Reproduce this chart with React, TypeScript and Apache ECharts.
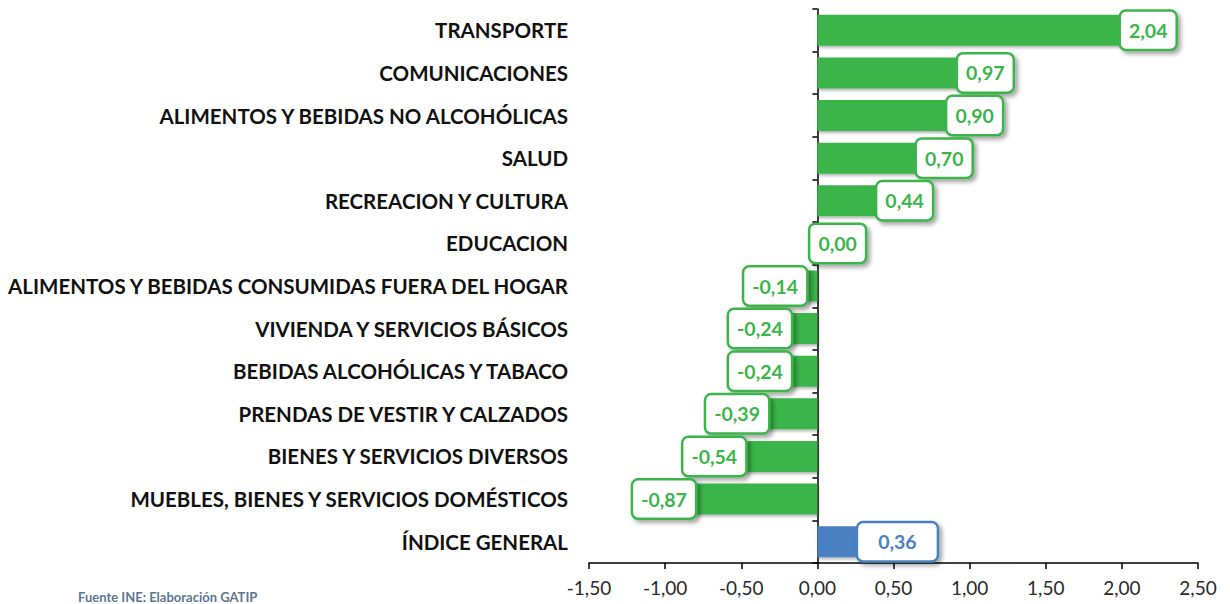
import { useEffect, useRef } from 'react';
import * as echarts from 'echarts';

const categories = [
  'TRANSPORTE',
  'COMUNICACIONES',
  'ALIMENTOS Y BEBIDAS NO ALCOHÓLICAS',
  'SALUD',
  'RECREACION Y CULTURA',
  'EDUCACION',
  'ALIMENTOS Y BEBIDAS CONSUMIDAS FUERA DEL HOGAR',
  'VIVIENDA Y SERVICIOS BÁSICOS',
  'BEBIDAS ALCOHÓLICAS Y TABACO',
  'PRENDAS DE VESTIR Y CALZADOS',
  'BIENES Y SERVICIOS DIVERSOS',
  'MUEBLES, BIENES Y SERVICIOS DOMÉSTICOS',
  'ÍNDICE GENERAL',
];
const values = [2.04, 0.97, 0.9, 0.7, 0.44, 0.0, -0.14, -0.24, -0.24, -0.39, -0.54, -0.87, 0.36];
const totalCategory = 'ÍNDICE GENERAL';
const sourceNote = 'Fuente INE: Elaboración GATIP';
const axisMin = -1.5;
const axisMax = 2.5;
const axisStep = 0.5;

const GREEN = '#3bb54a';
const BLUE = '#4a80c2';
const FONT = 'Lato';

const fmt = (v: number) => v.toFixed(2).replace('.', ',');

export default function App() {
  const ref = useRef<HTMLDivElement>(null);
  useEffect(() => {
    if (!ref.current) return;
    const chart = echarts.init(ref.current, undefined, { renderer: 'svg' });
    const data = values.map((v, i) => {
      const isTotal = categories[i] === totalCategory;
      const color = isTotal ? BLUE : GREEN;
      const pos = v >= 0 ? 'right' : 'left';
      return {
        value: v,
        itemStyle: { color },
        label: {
          position: pos,
          distance: 0,
          offset: isTotal ? [-14, 0] : v >= 0 ? [-7, 0] : [10, 0],
          color,
          borderColor: color,
          padding: isTotal ? [9, 20, 8, 20] : [9, 8, 8, 8],
        },
      };
    });
    chart.setOption({
      animation: false,
      textStyle: { fontFamily: FONT },
      grid: { left: 589, right: 32, top: 9, bottom: 41, containLabel: false },
      xAxis: {
        type: 'value',
        min: axisMin,
        max: axisMax,
        interval: axisStep,
        axisLine: { show: true, onZero: false, lineStyle: { color: '#000', width: 1.5 } },
        axisTick: { show: true, length: 6, lineStyle: { color: '#000', width: 1.5 } },
        splitLine: { show: false },
        axisLabel: {
          formatter: (v: number) => fmt(v),
          fontSize: 19,
          color: '#2a2a2a',
          margin: 15,
          fontFamily: FONT,
        },
      },
      yAxis: [
        {
          type: 'category',
          data: categories,
          inverse: true,
          position: 'left',
          axisLine: { show: false, onZero: false },
          axisTick: { show: false },
          axisLabel: {
            fontSize: 20.5,
            fontWeight: 'bold',
            color: '#111',
            margin: 21,
            fontFamily: FONT,
          },
        },
        {
          type: 'category',
          data: categories,
          inverse: true,
          position: 'left',
          axisLine: { show: true, onZero: true, lineStyle: { color: '#000', width: 1.5 } },
          axisTick: { show: true, length: 5, inside: false, lineStyle: { color: '#000', width: 1.5 } },
          axisLabel: { show: false },
        },
      ],
      graphic: [
        {
          type: 'text',
          left: 78,
          top: 590,
          style: {
            text: sourceNote,
            fontSize: 13,
            fontWeight: 'bold',
            fill: '#5b7693',
            fontFamily: FONT,
          },
        },
      ],
      series: [
        {
          type: 'bar',
          yAxisIndex: 0,
          barWidth: 31,
          data,
          itemStyle: {
            shadowColor: 'rgba(0,0,0,0.3)',
            shadowBlur: 3,
            shadowOffsetX: 1,
            shadowOffsetY: 2,
          },
          label: {
            show: true,
            formatter: (p: any) => fmt(p.value),
            fontSize: 19.5,
            fontWeight: 'bold',
            fontFamily: FONT,
            backgroundColor: '#fff',
            borderWidth: 2.5,
            borderRadius: 5,
            shadowColor: 'rgba(0,0,0,0.35)',
            shadowBlur: 4,
            shadowOffsetX: 3,
            shadowOffsetY: 3,
          },
        },
      ],
    });
    return () => chart.dispose();
  }, []);
  return (
    <div
      ref={ref}
      style={{ position: 'fixed', left: 0, top: 0, width: 1230, height: 604, background: '#fff' }}
    />
  );
}
